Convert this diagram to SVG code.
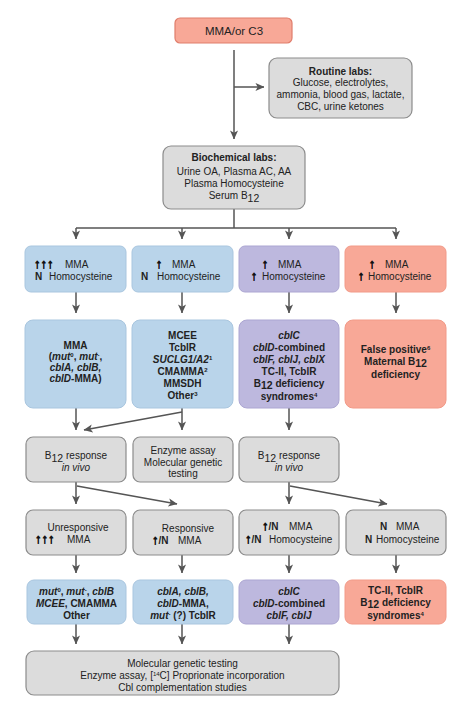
<svg xmlns="http://www.w3.org/2000/svg" width="474" height="714" viewBox="0 0 474 714">
<defs>
<marker id="ah" viewBox="0 0 10 10" refX="9.5" refY="5" markerWidth="9" markerHeight="9" orient="auto" markerUnits="userSpaceOnUse">
<path d="M0,0.5 L10,5 L0,9.5 L2.5,5 z" fill="#555"/>
</marker>
<style>
text{font-family:"Liberation Sans",Arial,sans-serif;font-size:10px;fill:#222}
.c{text-anchor:middle}
.b{font-weight:bold}
.i{font-style:italic}
.blue{fill:#b9d4ea;stroke:#a9c6df;stroke-width:1}
.purple{fill:#bdb8de;stroke:#aca6d2;stroke-width:1}
.salmon{fill:#f8a897;stroke:#f29a88;stroke-width:1}
.gray{fill:#dcdcdc;stroke:#8c8c8c;stroke-width:1.2}
.top{fill:#f8a897;stroke:#e07e6c;stroke-width:1.2}
.ln{fill:none;stroke:#555;stroke-width:1.5}
.ar{fill:none;stroke:#555;stroke-width:1.5;marker-end:url(#ah)}
.arw{font-family:"Liberation Sans","DejaVu Sans",sans-serif;font-weight:bold;font-size:13px;stroke:#111;stroke-width:0.7}
.n{font-size:10px;stroke:none}
.sub{font-size:10.5px}
.sup{font-size:6px}
</style>
</defs>
<rect width="474" height="714" fill="#fff"/>

<g id="connectors">
<path class="ar" d="M234,50 V139"/>
<path class="ar" d="M234,87 H264"/>
<path class="ln" d="M234,209 V228 M76,228 H396"/>
<path class="ar" d="M76,228 V239"/>
<path class="ar" d="M182,228 V239"/>
<path class="ar" d="M289,228 V239"/>
<path class="ar" d="M396,228 V239"/>
<path class="ar" d="M76,292 V313"/>
<path class="ar" d="M182,292 V313"/>
<path class="ar" d="M289,292 V313"/>
<path class="ar" d="M396,292 V313"/>
<path class="ar" d="M76,408 V430"/>
<path class="ar" d="M182,408 V430"/>
<path class="ar" d="M182,412 L84,430"/>
<path class="ar" d="M289,408 V430"/>
<path class="ar" d="M76,482 V504"/>
<path class="ar" d="M77,486 L177,504"/>
<path class="ar" d="M289,482 V504"/>
<path class="ar" d="M290,486 L387,504"/>
<path class="ar" d="M76,555 V573"/>
<path class="ar" d="M182,555 V573"/>
<path class="ar" d="M289,555 V573"/>
<path class="ar" d="M396,555 V573"/>
<path class="ar" d="M76,624 V644"/>
<path class="ar" d="M182,624 V644"/>
<path class="ar" d="M289,624 V644"/>
</g>

<g id="start">
<rect class="top" x="175" y="18" width="117" height="25" rx="5"/>
<text class="c" x="234" y="35" style="font-size:11.5px">MMA/or C3</text>
</g>

<g id="routine">
<rect class="gray" x="269" y="58" width="143" height="60" rx="8"/>
<text class="c b" x="340.5" y="75">Routine labs:</text>
<text class="c" x="340.5" y="86">Glucose, electrolytes,</text>
<text class="c" x="340.5" y="98">ammonia, blood gas, lactate,</text>
<text class="c" x="340.5" y="110">CBC, urine ketones</text>
</g>

<g id="biochem">
<rect class="gray" x="163" y="146" width="142" height="63" rx="8"/>
<text class="c b" x="234" y="161">Biochemical labs:</text>
<text class="c" x="234" y="175">Urine OA, Plasma AC, AA</text>
<text class="c" x="234" y="187">Plasma Homocysteine</text>
<text class="c" x="234" y="199">Serum B<tspan class="sub" baseline-shift="-2.5">12</tspan></text>
</g>

<g id="r1c1">
<rect class="blue" x="25" y="246" width="101" height="46" rx="6"/>
<text class="arw" x="34" y="268">↑↑↑</text>
<text x="65" y="268">MMA</text>
<text class="b" x="35" y="280">N</text>
<text x="49" y="280">Homocysteine</text>
</g>
<g id="r1c2">
<rect class="blue" x="132" y="246" width="101" height="46" rx="6"/>
<text class="arw c" x="159" y="268">↑</text>
<text x="172" y="268">MMA</text>
<text class="b" x="141" y="280">N</text>
<text x="157" y="280">Homocysteine</text>
</g>
<g id="r1c3">
<rect class="purple" x="239" y="246" width="100" height="46" rx="6"/>
<text class="arw c" x="265" y="268">↑</text>
<text x="278" y="268">MMA</text>
<text class="arw c" x="254" y="280">↑</text>
<text x="262" y="280">Homocysteine</text>
</g>
<g id="r1c4">
<rect class="salmon" x="345" y="246" width="101" height="46" rx="6"/>
<text class="arw c" x="372" y="268">↑</text>
<text x="385" y="268">MMA</text>
<text class="arw c" x="361" y="280">↑</text>
<text x="368" y="280">Homocysteine</text>
</g>

<g id="r2c1">
<rect class="blue" x="25" y="320" width="101" height="88" rx="8"/>
<text class="c b" x="75.5" y="349">MMA</text>
<text class="c b" x="75.5" y="360">(<tspan class="i">mut</tspan><tspan class="sup" baseline-shift="super">0</tspan>, <tspan class="i">mut</tspan><tspan class="sup" baseline-shift="super">-</tspan>,</text>
<text class="c b i" x="75.5" y="371">cblA, cblB,</text>
<text class="c b" x="75.5" y="382"><tspan class="i">cblD</tspan>-MMA)</text>
</g>
<g id="r2c2">
<rect class="blue" x="132" y="320" width="101" height="88" rx="8"/>
<text class="c b" x="182.5" y="339">MCEE</text>
<text class="c b" x="182.5" y="351">TcblR</text>
<text class="c b" x="182.5" y="363"><tspan class="i">SUCLG1/A2</tspan><tspan class="sup" baseline-shift="super">1</tspan></text>
<text class="c b" x="182.5" y="375">CMAMMA<tspan class="sup" baseline-shift="super">2</tspan></text>
<text class="c b" x="182.5" y="387">MMSDH</text>
<text class="c b" x="182.5" y="399">Other<tspan class="sup" baseline-shift="super">3</tspan></text>
</g>
<g id="r2c3">
<rect class="purple" x="239" y="320" width="100" height="88" rx="8"/>
<text class="c b i" x="289" y="339">cblC</text>
<text class="c b" x="289" y="351"><tspan class="i">cblD</tspan>-combined</text>
<text class="c b i" x="289" y="363">cblF, cblJ, cblX</text>
<text class="c b" x="289" y="375">TC-II, TcblR</text>
<text class="c b" x="289" y="387">B<tspan class="sub" baseline-shift="-2">12</tspan> deficiency</text>
<text class="c b" x="289" y="400">syndromes<tspan class="sup" baseline-shift="super">4</tspan></text>
</g>
<g id="r2c4">
<rect class="salmon" x="345" y="320" width="101" height="88" rx="8"/>
<text class="c b" x="395.5" y="353">False positive<tspan class="sup" baseline-shift="super">6</tspan></text>
<text class="c b" x="395.5" y="365">Maternal B<tspan class="sub" baseline-shift="-2">12</tspan></text>
<text class="c b" x="395.5" y="378">deficiency</text>
</g>

<g id="r3c1">
<rect class="gray" x="26" y="437" width="100" height="45" rx="7"/>
<text class="c" x="76" y="459">B<tspan class="sub" baseline-shift="-2.5">12</tspan> response</text>
<text class="c i" x="76" y="471">in vivo</text>
</g>
<g id="r3c2">
<rect class="gray" x="133" y="437" width="100" height="45" rx="7"/>
<text class="c" x="183" y="454">Enzyme assay</text>
<text class="c" x="183" y="466">Molecular genetic</text>
<text class="c" x="183" y="477">testing</text>
</g>
<g id="r3c3">
<rect class="gray" x="239" y="437" width="100" height="45" rx="7"/>
<text class="c" x="289" y="459">B<tspan class="sub" baseline-shift="-2.5">12</tspan> response</text>
<text class="c i" x="289" y="471">in vivo</text>
</g>

<g id="r4c1">
<rect class="gray" x="26" y="510" width="100" height="45" rx="7"/>
<text class="c" x="78" y="531">Unresponsive</text>
<text class="arw" x="35" y="543">↑↑↑</text>
<text x="67" y="543">MMA</text>
</g>
<g id="r4c2">
<rect class="gray" x="133" y="510" width="100" height="45" rx="7"/>
<text class="c" x="188" y="532">Responsive</text>
<text class="arw" x="152" y="544">↑<tspan class="n">/N</tspan></text>
<text x="178" y="544">MMA</text>
</g>
<g id="r4c3">
<rect class="gray" x="239" y="510" width="100" height="45" rx="7"/>
<text class="arw" x="262" y="530">↑<tspan class="n">/N</tspan></text>
<text x="289" y="530">MMA</text>
<text class="arw" x="245" y="543">↑<tspan class="n">/N</tspan></text>
<text x="269" y="543">Homocysteine</text>
</g>
<g id="r4c4">
<rect class="gray" x="346" y="510" width="100" height="45" rx="7"/>
<text class="b" x="380" y="530">N</text>
<text x="396" y="530">MMA</text>
<text class="b" x="365" y="543">N</text>
<text x="376" y="543">Homocysteine</text>
</g>

<g id="r5c1">
<rect class="blue" x="27" y="580" width="99" height="44" rx="7"/>
<text class="c b" x="76.5" y="595"><tspan class="i">mut</tspan><tspan class="sup" baseline-shift="super">0</tspan>, <tspan class="i">mut</tspan><tspan class="sup" baseline-shift="super">-</tspan>, <tspan class="i">cblB</tspan></text>
<text class="c b" x="76.5" y="607"><tspan class="i">MCEE</tspan>, CMAMMA</text>
<text class="c b" x="76.5" y="619">Other</text>
</g>
<g id="r5c2">
<rect class="blue" x="133" y="580" width="100" height="44" rx="7"/>
<text class="c b i" x="183" y="595">cblA, cblB,</text>
<text class="c b" x="183" y="607"><tspan class="i">cblD</tspan>-MMA,</text>
<text class="c b" x="183" y="619"><tspan class="i">mut</tspan><tspan class="sup" baseline-shift="super">-</tspan> (?) TcblR</text>
</g>
<g id="r5c3">
<rect class="purple" x="239" y="580" width="100" height="44" rx="7"/>
<text class="c b i" x="289" y="595">cblC</text>
<text class="c b" x="289" y="607"><tspan class="i">cblD</tspan>-combined</text>
<text class="c b i" x="289" y="619">cblF, cblJ</text>
</g>
<g id="r5c4">
<rect class="salmon" x="345" y="580" width="101" height="44" rx="7"/>
<text class="c b" x="395.5" y="594">TC-II, TcblR</text>
<text class="c b" x="395.5" y="606">B<tspan class="sub" baseline-shift="-2">12</tspan> deficiency</text>
<text class="c b" x="395.5" y="619">syndromes<tspan class="sup" baseline-shift="super">4</tspan></text>
</g>

<g id="final">
<rect class="gray" x="26" y="651" width="313" height="44" rx="8"/>
<text class="c" x="182.5" y="667">Molecular genetic testing</text>
<text class="c" x="182.5" y="679">Enzyme assay, [<tspan class="sup" baseline-shift="super">14</tspan>C] Proprionate incorporation</text>
<text class="c" x="182.5" y="691">Cbl complementation studies</text>
</g>
</svg>
